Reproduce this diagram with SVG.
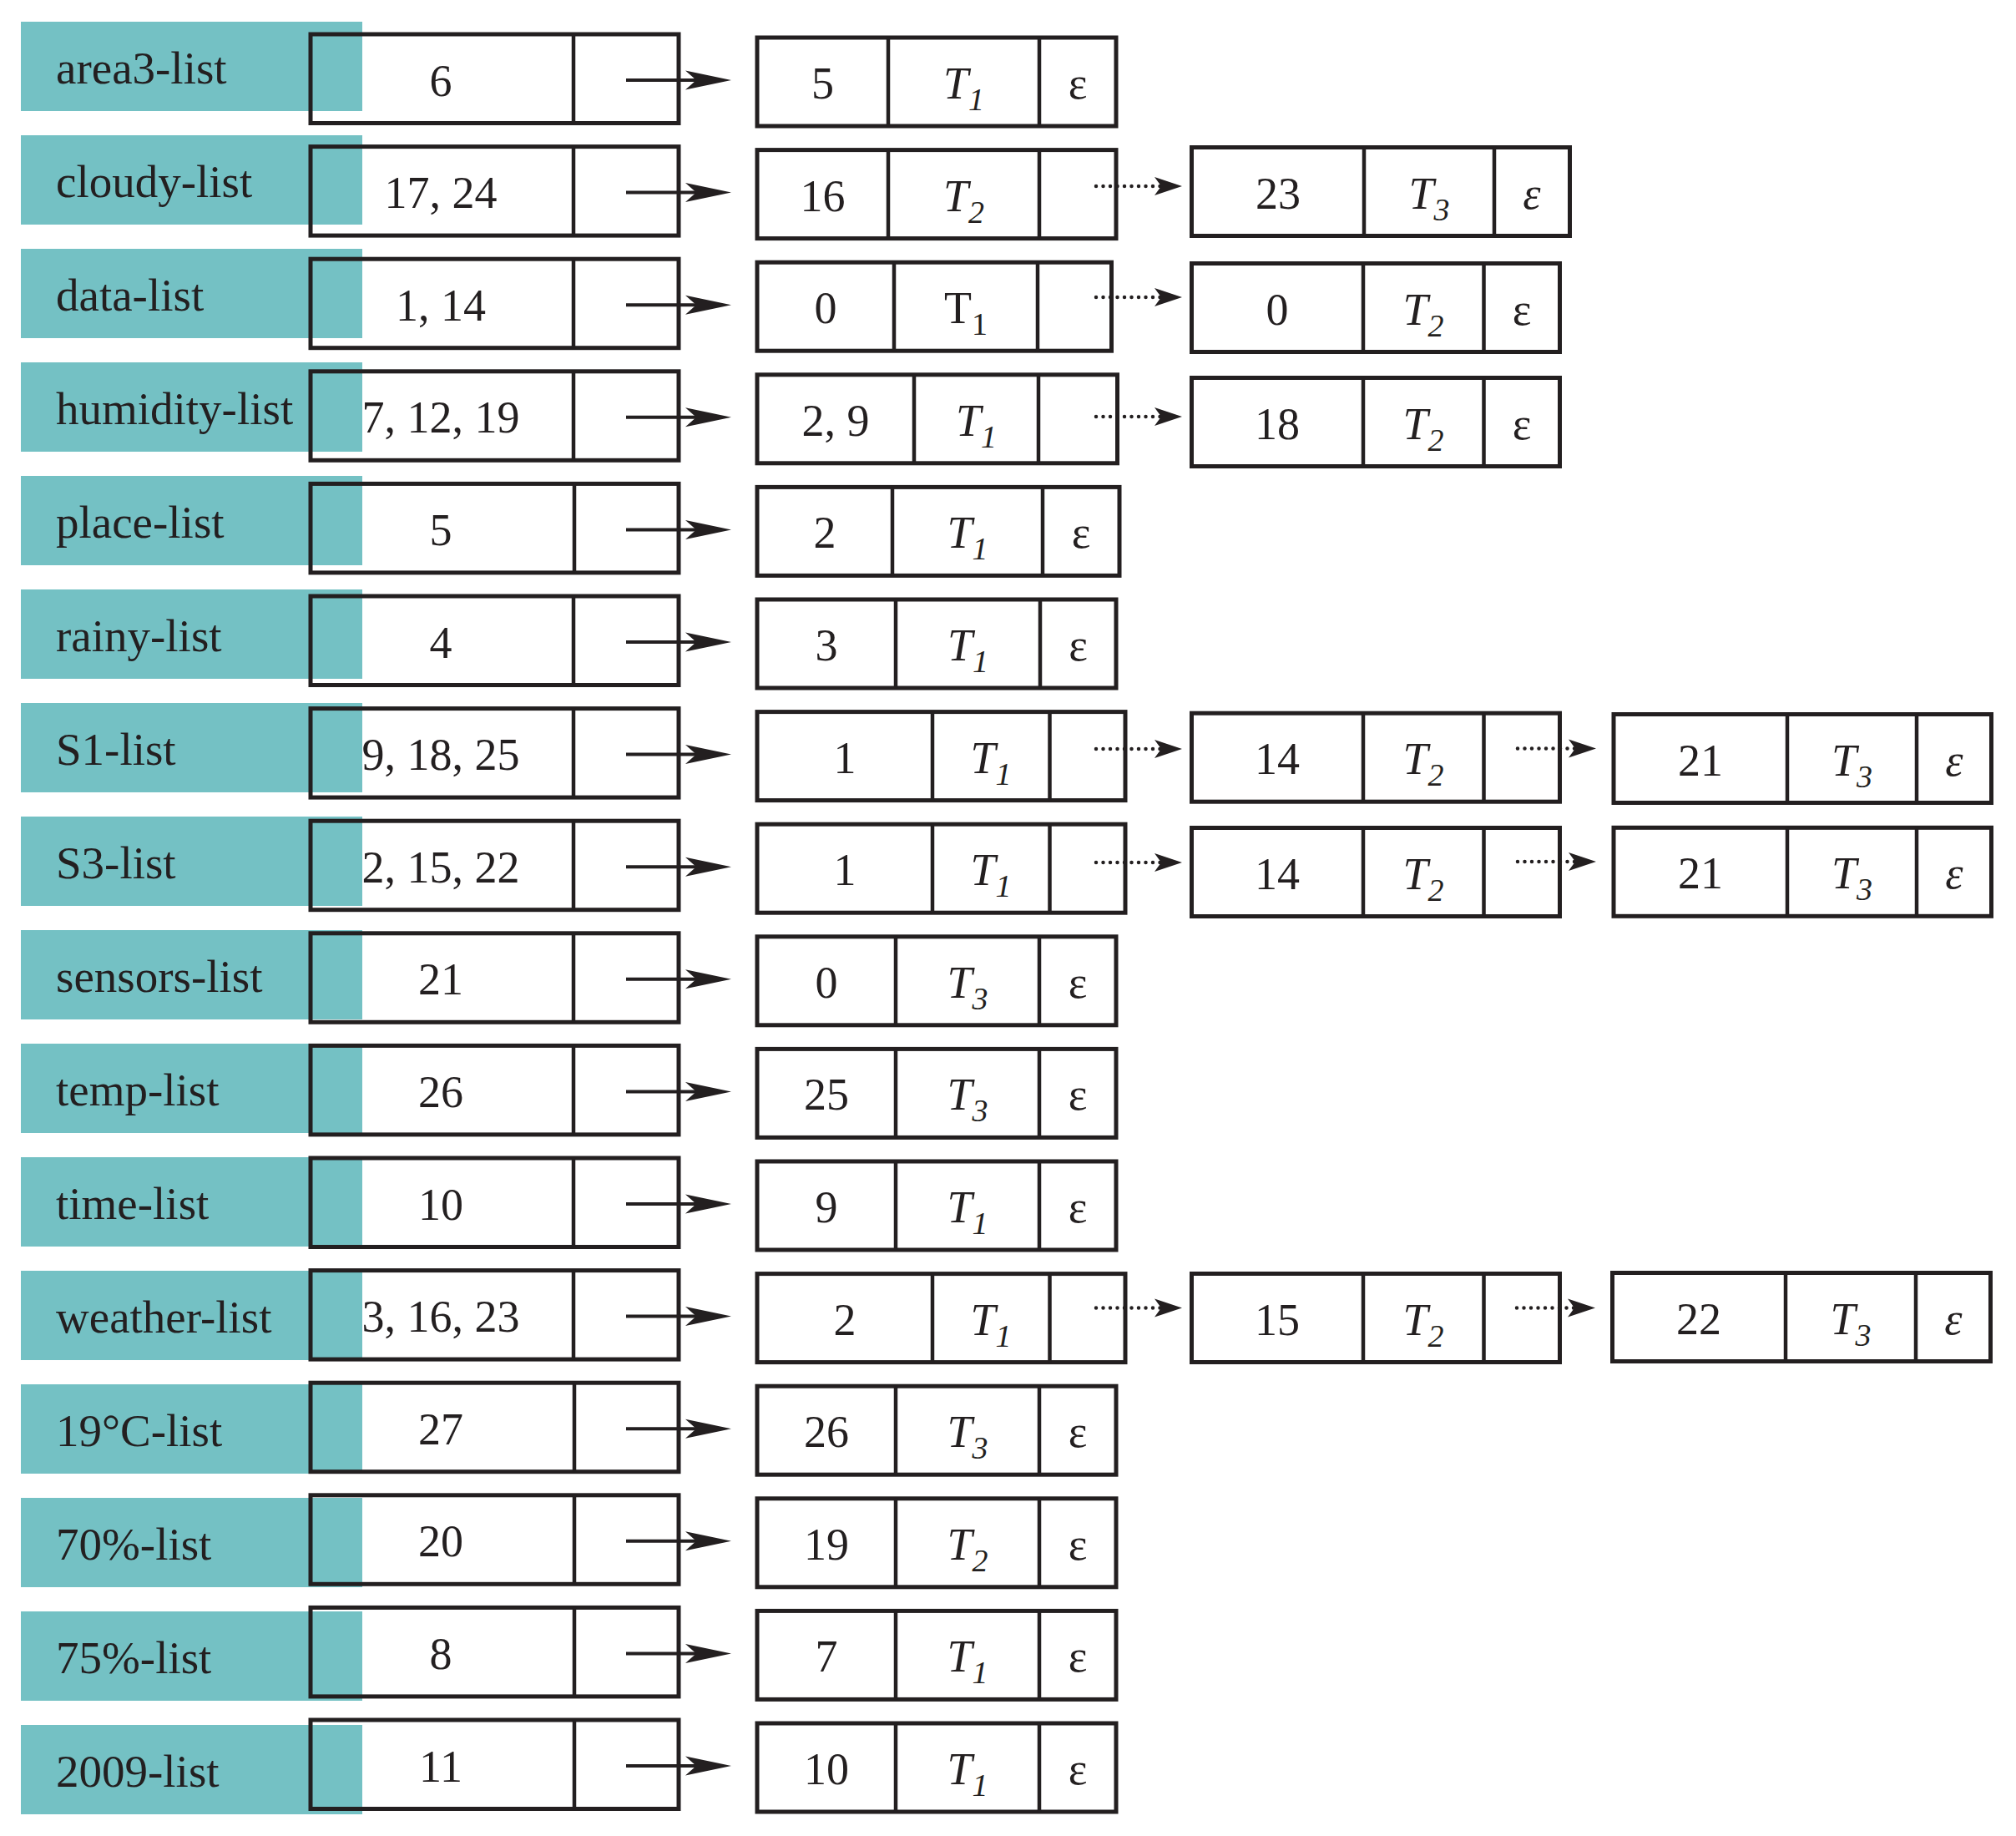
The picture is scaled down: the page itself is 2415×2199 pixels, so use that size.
<svg xmlns="http://www.w3.org/2000/svg" width="2415" height="2199" viewBox="0 0 2415 2199">
<style>
.lab{fill:#74C1C4}
.box{fill:none;stroke:#231F20;stroke-width:5}
.nb{fill:#FFFFFF;stroke:#231F20;stroke-width:5}
.dv{stroke:#231F20;stroke-width:4.5}
text{font-family:"Liberation Serif","Times New Roman",serif;fill:#231F20}
.lbl{font-size:55px}
.tx{font-size:54px;text-anchor:middle}
.it{font-style:italic}
.sub{font-size:38px}
.conn{fill:none;stroke:#231F20;stroke-width:4}
.dot{fill:none;stroke:#231F20;stroke-width:4.5;stroke-dasharray:0 8.5;stroke-linecap:round}
</style>
<defs>
<marker id="ah" markerUnits="userSpaceOnUse" markerWidth="60" markerHeight="30" viewBox="0 -15 60 30" refX="13" refY="0" orient="auto"><path d="M0,-11.5 L55,0 L0,11.5 L13,0 Z" fill="#231F20"/></marker>
<marker id="ahd" markerUnits="userSpaceOnUse" markerWidth="40" markerHeight="30" viewBox="0 -15 40 30" refX="8" refY="0" orient="auto"><path d="M0,-11 L33,0 L0,11 L8,0 Z" fill="#231F20"/></marker>
</defs>

<!-- header column -->
<g id="area3-list"><rect class="lab" x="25" y="26" width="409" height="107"/><text class="lbl" x="67" y="99.5">area3-list</text><rect class="box" x="372" y="41" width="441" height="106.5"/><line class="dv" x1="687" y1="41" x2="687" y2="147.5"/><text class="tx" x="528" y="114.5">6</text></g>
<g id="cloudy-list"><rect class="lab" x="25" y="162" width="409" height="107"/><text class="lbl" x="67" y="235.5">cloudy-list</text><rect class="box" x="372" y="175.6" width="441" height="106.5"/><line class="dv" x1="687" y1="175.6" x2="687" y2="282.1"/><text class="tx" x="528" y="249.1">17, 24</text></g>
<g id="data-list"><rect class="lab" x="25" y="298" width="409" height="107"/><text class="lbl" x="67" y="371.5">data-list</text><rect class="box" x="372" y="310.2" width="441" height="106.5"/><line class="dv" x1="687" y1="310.2" x2="687" y2="416.7"/><text class="tx" x="528" y="383.7">1, 14</text></g>
<g id="humidity-list"><rect class="lab" x="25" y="434" width="409" height="107"/><text class="lbl" x="67" y="507.5">humidity-list</text><rect class="box" x="372" y="444.8" width="441" height="106.5"/><line class="dv" x1="687" y1="444.8" x2="687" y2="551.3"/><text class="tx" x="528" y="518.3">7, 12, 19</text></g>
<g id="place-list"><rect class="lab" x="25" y="570" width="409" height="107"/><text class="lbl" x="67" y="643.5">place-list</text><rect class="box" x="372" y="579.4" width="441" height="106.5"/><line class="dv" x1="688" y1="579.4" x2="688" y2="685.9"/><text class="tx" x="528" y="652.9">5</text></g>
<g id="rainy-list"><rect class="lab" x="25" y="706" width="409" height="107"/><text class="lbl" x="67" y="779.5">rainy-list</text><rect class="box" x="372" y="714" width="441" height="106.5"/><line class="dv" x1="687" y1="714" x2="687" y2="820.5"/><text class="tx" x="528" y="787.5">4</text></g>
<g id="S1-list"><rect class="lab" x="25" y="842" width="409" height="107"/><text class="lbl" x="67" y="915.5">S1-list</text><rect class="box" x="372" y="848.6" width="441" height="106.5"/><line class="dv" x1="687" y1="848.6" x2="687" y2="955.1"/><text class="tx" x="528" y="922.1">9, 18, 25</text></g>
<g id="S3-list"><rect class="lab" x="25" y="978" width="409" height="107"/><text class="lbl" x="67" y="1051.5">S3-list</text><rect class="box" x="372" y="983.2" width="441" height="106.5"/><line class="dv" x1="687" y1="983.2" x2="687" y2="1089.7"/><text class="tx" x="528" y="1056.7">2, 15, 22</text></g>
<g id="sensors-list"><rect class="lab" x="25" y="1114" width="409" height="107"/><text class="lbl" x="67" y="1187.5">sensors-list</text><rect class="box" x="372" y="1117.8" width="441" height="106.5"/><line class="dv" x1="687" y1="1117.8" x2="687" y2="1224.3"/><text class="tx" x="528" y="1191.3">21</text></g>
<g id="temp-list"><rect class="lab" x="25" y="1250" width="409" height="107"/><text class="lbl" x="67" y="1323.5">temp-list</text><rect class="box" x="372" y="1252.4" width="441" height="106.5"/><line class="dv" x1="687" y1="1252.4" x2="687" y2="1358.9"/><text class="tx" x="528" y="1325.9">26</text></g>
<g id="time-list"><rect class="lab" x="25" y="1386" width="409" height="107"/><text class="lbl" x="67" y="1459.5">time-list</text><rect class="box" x="372" y="1387" width="441" height="106.5"/><line class="dv" x1="687" y1="1387" x2="687" y2="1493.5"/><text class="tx" x="528" y="1460.5">10</text></g>
<g id="weather-list"><rect class="lab" x="25" y="1522" width="409" height="107"/><text class="lbl" x="67" y="1595.5">weather-list</text><rect class="box" x="372" y="1521.6" width="441" height="106.5"/><line class="dv" x1="687" y1="1521.6" x2="687" y2="1628.1"/><text class="tx" x="528" y="1595.1">3, 16, 23</text></g>
<g id="19C-list"><rect class="lab" x="25" y="1658" width="409" height="107"/><text class="lbl" x="67" y="1731.5">19°C-list</text><rect class="box" x="372" y="1656.2" width="441" height="106.5"/><line class="dv" x1="688" y1="1656.2" x2="688" y2="1762.7"/><text class="tx" x="528" y="1729.7">27</text></g>
<g id="70pct-list"><rect class="lab" x="25" y="1794" width="409" height="107"/><text class="lbl" x="67" y="1867.5">70%-list</text><rect class="box" x="372" y="1790.8" width="441" height="106.5"/><line class="dv" x1="688" y1="1790.8" x2="688" y2="1897.3"/><text class="tx" x="528" y="1864.3">20</text></g>
<g id="75pct-list"><rect class="lab" x="25" y="1930" width="409" height="107"/><text class="lbl" x="67" y="2003.5">75%-list</text><rect class="box" x="372" y="1925.4" width="441" height="106.5"/><line class="dv" x1="688" y1="1925.4" x2="688" y2="2031.9"/><text class="tx" x="528" y="1998.9">8</text></g>
<g id="2009-list"><rect class="lab" x="25" y="2066" width="409" height="107"/><text class="lbl" x="67" y="2139.5">2009-list</text><rect class="box" x="372" y="2060" width="441" height="106.5"/><line class="dv" x1="688" y1="2060" x2="688" y2="2166.5"/><text class="tx" x="528" y="2133.5">11</text></g>

<!-- record nodes -->
<g id="area3-n1"><rect class="nb" x="907" y="45" width="430" height="106"/><line class="dv" x1="1064" y1="45" x2="1064" y2="151"/><line class="dv" x1="1245" y1="45" x2="1245" y2="151"/><text class="tx" x="985.5" y="118">5</text><text class="tx" x="1154.5" y="118"><tspan class="it">T</tspan><tspan class="it sub" dy="14">1</tspan></text><text class="tx" x="1291" y="118">ε</text></g>

<g id="cloudy-n1"><rect class="nb" x="907" y="179.6" width="430" height="106"/><line class="dv" x1="1064" y1="179.6" x2="1064" y2="285.6"/><line class="dv" x1="1245" y1="179.6" x2="1245" y2="285.6"/><text class="tx" x="985.5" y="252.6">16</text><text class="tx" x="1154.5" y="252.6"><tspan class="it">T</tspan><tspan class="it sub" dy="14">2</tspan></text></g>
<g id="cloudy-n2"><rect class="nb" x="1427.5" y="176.5" width="453" height="106"/><line class="dv" x1="1634" y1="176.5" x2="1634" y2="282.5"/><line class="dv" x1="1790" y1="176.5" x2="1790" y2="282.5"/><text class="tx" x="1531" y="249.5">23</text><text class="tx" x="1712" y="249.5"><tspan class="it">T</tspan><tspan class="it sub" dy="14">3</tspan></text><text class="tx it" x="1835" y="249.5">ε</text></g>

<g id="data-n1"><rect class="nb" x="907" y="314.2" width="424.5" height="106"/><line class="dv" x1="1071" y1="314.2" x2="1071" y2="420.2"/><line class="dv" x1="1243" y1="314.2" x2="1243" y2="420.2"/><text class="tx" x="989" y="387.2">0</text><text class="tx" x="1157" y="387.2">T<tspan class="sub" dy="14">1</tspan></text></g>
<g id="data-n2"><rect class="nb" x="1427.5" y="315.5" width="441" height="106"/><line class="dv" x1="1633" y1="315.5" x2="1633" y2="421.5"/><line class="dv" x1="1777.5" y1="315.5" x2="1777.5" y2="421.5"/><text class="tx" x="1530" y="388.5">0</text><text class="tx" x="1705" y="388.5"><tspan class="it">T</tspan><tspan class="it sub" dy="14">2</tspan></text><text class="tx" x="1823" y="388.5">ε</text></g>

<g id="humidity-n1"><rect class="nb" x="907" y="448.8" width="431.5" height="106"/><line class="dv" x1="1095" y1="448.8" x2="1095" y2="554.8"/><line class="dv" x1="1244" y1="448.8" x2="1244" y2="554.8"/><text class="tx" x="1001" y="521.8">2, 9</text><text class="tx" x="1169.5" y="521.8"><tspan class="it">T</tspan><tspan class="it sub" dy="14">1</tspan></text></g>
<g id="humidity-n2"><rect class="nb" x="1427.5" y="452.5" width="441" height="106"/><line class="dv" x1="1633" y1="452.5" x2="1633" y2="558.5"/><line class="dv" x1="1777.5" y1="452.5" x2="1777.5" y2="558.5"/><text class="tx" x="1530" y="525.5">18</text><text class="tx" x="1705" y="525.5"><tspan class="it">T</tspan><tspan class="it sub" dy="14">2</tspan></text><text class="tx" x="1823" y="525.5">ε</text></g>

<g id="place-n1"><rect class="nb" x="907" y="583.4" width="434" height="106"/><line class="dv" x1="1069" y1="583.4" x2="1069" y2="689.4"/><line class="dv" x1="1249" y1="583.4" x2="1249" y2="689.4"/><text class="tx" x="988" y="656.4">2</text><text class="tx" x="1159" y="656.4"><tspan class="it">T</tspan><tspan class="it sub" dy="14">1</tspan></text><text class="tx" x="1295" y="656.4">ε</text></g>

<g id="rainy-n1"><rect class="nb" x="907" y="718" width="430" height="106"/><line class="dv" x1="1073" y1="718" x2="1073" y2="824"/><line class="dv" x1="1246" y1="718" x2="1246" y2="824"/><text class="tx" x="990" y="791">3</text><text class="tx" x="1159.5" y="791"><tspan class="it">T</tspan><tspan class="it sub" dy="14">1</tspan></text><text class="tx" x="1291.5" y="791">ε</text></g>

<g id="S1-n1"><rect class="nb" x="907" y="852.6" width="441" height="106"/><line class="dv" x1="1117" y1="852.6" x2="1117" y2="958.6"/><line class="dv" x1="1257.5" y1="852.6" x2="1257.5" y2="958.6"/><text class="tx" x="1012" y="925.6">1</text><text class="tx" x="1187" y="925.6"><tspan class="it">T</tspan><tspan class="it sub" dy="14">1</tspan></text></g>
<g id="S1-n2"><rect class="nb" x="1427.5" y="854.2" width="441" height="106"/><line class="dv" x1="1633" y1="854.2" x2="1633" y2="960.2"/><line class="dv" x1="1777.5" y1="854.2" x2="1777.5" y2="960.2"/><text class="tx" x="1530" y="927.2">14</text><text class="tx" x="1705" y="927.2"><tspan class="it">T</tspan><tspan class="it sub" dy="14">2</tspan></text></g>
<g id="S1-n3"><rect class="nb" x="1933" y="855.5" width="452.5" height="106"/><line class="dv" x1="2141" y1="855.5" x2="2141" y2="961.5"/><line class="dv" x1="2296" y1="855.5" x2="2296" y2="961.5"/><text class="tx" x="2037" y="928.5">21</text><text class="tx" x="2218.5" y="928.5"><tspan class="it">T</tspan><tspan class="it sub" dy="14">3</tspan></text><text class="tx it" x="2341" y="928.5">ε</text></g>

<g id="S3-n1"><rect class="nb" x="907" y="987.2" width="441" height="106"/><line class="dv" x1="1117" y1="987.2" x2="1117" y2="1093.2"/><line class="dv" x1="1257.5" y1="987.2" x2="1257.5" y2="1093.2"/><text class="tx" x="1012" y="1060.2">1</text><text class="tx" x="1187" y="1060.2"><tspan class="it">T</tspan><tspan class="it sub" dy="14">1</tspan></text></g>
<g id="S3-n2"><rect class="nb" x="1427.5" y="991.5" width="441" height="106"/><line class="dv" x1="1633" y1="991.5" x2="1633" y2="1097.5"/><line class="dv" x1="1777.5" y1="991.5" x2="1777.5" y2="1097.5"/><text class="tx" x="1530" y="1064.5">14</text><text class="tx" x="1705" y="1064.5"><tspan class="it">T</tspan><tspan class="it sub" dy="14">2</tspan></text></g>
<g id="S3-n3"><rect class="nb" x="1933" y="991.3" width="452.5" height="106"/><line class="dv" x1="2141" y1="991.3" x2="2141" y2="1097.3"/><line class="dv" x1="2296" y1="991.3" x2="2296" y2="1097.3"/><text class="tx" x="2037" y="1064.3">21</text><text class="tx" x="2218.5" y="1064.3"><tspan class="it">T</tspan><tspan class="it sub" dy="14">3</tspan></text><text class="tx it" x="2341" y="1064.3">ε</text></g>

<g id="sensors-n1"><rect class="nb" x="907" y="1121.8" width="430" height="106"/><line class="dv" x1="1073" y1="1121.8" x2="1073" y2="1227.8"/><line class="dv" x1="1245" y1="1121.8" x2="1245" y2="1227.8"/><text class="tx" x="990" y="1194.8">0</text><text class="tx" x="1159" y="1194.8"><tspan class="it">T</tspan><tspan class="it sub" dy="14">3</tspan></text><text class="tx" x="1291" y="1194.8">ε</text></g>

<g id="temp-n1"><rect class="nb" x="907" y="1256.4" width="430" height="106"/><line class="dv" x1="1073" y1="1256.4" x2="1073" y2="1362.4"/><line class="dv" x1="1245" y1="1256.4" x2="1245" y2="1362.4"/><text class="tx" x="990" y="1329.4">25</text><text class="tx" x="1159" y="1329.4"><tspan class="it">T</tspan><tspan class="it sub" dy="14">3</tspan></text><text class="tx" x="1291" y="1329.4">ε</text></g>

<g id="time-n1"><rect class="nb" x="907" y="1391" width="430" height="106"/><line class="dv" x1="1073" y1="1391" x2="1073" y2="1497"/><line class="dv" x1="1245" y1="1391" x2="1245" y2="1497"/><text class="tx" x="990" y="1464">9</text><text class="tx" x="1159" y="1464"><tspan class="it">T</tspan><tspan class="it sub" dy="14">1</tspan></text><text class="tx" x="1291" y="1464">ε</text></g>

<g id="weather-n1"><rect class="nb" x="907" y="1525.6" width="441" height="106"/><line class="dv" x1="1117" y1="1525.6" x2="1117" y2="1631.6"/><line class="dv" x1="1257.5" y1="1525.6" x2="1257.5" y2="1631.6"/><text class="tx" x="1012" y="1598.6">2</text><text class="tx" x="1187" y="1598.6"><tspan class="it">T</tspan><tspan class="it sub" dy="14">1</tspan></text></g>
<g id="weather-n2"><rect class="nb" x="1427.5" y="1525.5" width="441" height="106"/><line class="dv" x1="1633" y1="1525.5" x2="1633" y2="1631.5"/><line class="dv" x1="1777.5" y1="1525.5" x2="1777.5" y2="1631.5"/><text class="tx" x="1530" y="1598.5">15</text><text class="tx" x="1705" y="1598.5"><tspan class="it">T</tspan><tspan class="it sub" dy="14">2</tspan></text></g>
<g id="weather-n3"><rect class="nb" x="1931.5" y="1524.5" width="453" height="106"/><line class="dv" x1="2139" y1="1524.5" x2="2139" y2="1630.5"/><line class="dv" x1="2295" y1="1524.5" x2="2295" y2="1630.5"/><text class="tx" x="2035" y="1597.5">22</text><text class="tx" x="2217" y="1597.5"><tspan class="it">T</tspan><tspan class="it sub" dy="14">3</tspan></text><text class="tx it" x="2340" y="1597.5">ε</text></g>

<g id="19C-n1"><rect class="nb" x="907" y="1660.2" width="430" height="106"/><line class="dv" x1="1073" y1="1660.2" x2="1073" y2="1766.2"/><line class="dv" x1="1245" y1="1660.2" x2="1245" y2="1766.2"/><text class="tx" x="990" y="1733.2">26</text><text class="tx" x="1159" y="1733.2"><tspan class="it">T</tspan><tspan class="it sub" dy="14">3</tspan></text><text class="tx" x="1291" y="1733.2">ε</text></g>

<g id="70pct-n1"><rect class="nb" x="907" y="1794.8" width="430" height="106"/><line class="dv" x1="1073" y1="1794.8" x2="1073" y2="1900.8"/><line class="dv" x1="1245" y1="1794.8" x2="1245" y2="1900.8"/><text class="tx" x="990" y="1867.8">19</text><text class="tx" x="1159" y="1867.8"><tspan class="it">T</tspan><tspan class="it sub" dy="14">2</tspan></text><text class="tx" x="1291" y="1867.8">ε</text></g>

<g id="75pct-n1"><rect class="nb" x="907" y="1929.4" width="430" height="106"/><line class="dv" x1="1073" y1="1929.4" x2="1073" y2="2035.4"/><line class="dv" x1="1245" y1="1929.4" x2="1245" y2="2035.4"/><text class="tx" x="990" y="2002.4">7</text><text class="tx" x="1159" y="2002.4"><tspan class="it">T</tspan><tspan class="it sub" dy="14">1</tspan></text><text class="tx" x="1291" y="2002.4">ε</text></g>

<g id="2009-n1"><rect class="nb" x="907" y="2064" width="430" height="106"/><line class="dv" x1="1073" y1="2064" x2="1073" y2="2170"/><line class="dv" x1="1245" y1="2064" x2="1245" y2="2170"/><text class="tx" x="990" y="2137">10</text><text class="tx" x="1159" y="2137"><tspan class="it">T</tspan><tspan class="it sub" dy="14">1</tspan></text><text class="tx" x="1291" y="2137">ε</text></g>

<!-- connectors -->
<g id="connectors">
<path class="conn" marker-end="url(#ah)" d="M750,96 H834"/>
<path class="conn" marker-end="url(#ah)" d="M750,230.6 H834"/>
<path class="conn" marker-end="url(#ah)" d="M750,365.2 H834"/>
<path class="conn" marker-end="url(#ah)" d="M750,499.8 H834"/>
<path class="conn" marker-end="url(#ah)" d="M750,634.4 H834"/>
<path class="conn" marker-end="url(#ah)" d="M750,769 H834"/>
<path class="conn" marker-end="url(#ah)" d="M750,903.6 H834"/>
<path class="conn" marker-end="url(#ah)" d="M750,1038.2 H834"/>
<path class="conn" marker-end="url(#ah)" d="M750,1172.8 H834"/>
<path class="conn" marker-end="url(#ah)" d="M750,1307.4 H834"/>
<path class="conn" marker-end="url(#ah)" d="M750,1442 H834"/>
<path class="conn" marker-end="url(#ah)" d="M750,1576.6 H834"/>
<path class="conn" marker-end="url(#ah)" d="M750,1711.2 H834"/>
<path class="conn" marker-end="url(#ah)" d="M750,1845.8 H834"/>
<path class="conn" marker-end="url(#ah)" d="M750,1980.4 H834"/>
<path class="conn" marker-end="url(#ah)" d="M750,2115 H834"/>
<path class="dot" marker-end="url(#ahd)" d="M1313,223 H1391"/>
<path class="dot" marker-end="url(#ahd)" d="M1313,356 H1391"/>
<path class="dot" marker-end="url(#ahd)" d="M1313,499 H1391"/>
<path class="dot" marker-end="url(#ahd)" d="M1313,897 H1391"/>
<path class="dot" marker-end="url(#ahd)" d="M1313,1033 H1391"/>
<path class="dot" marker-end="url(#ahd)" d="M1313,1566.5 H1391"/>
<path class="dot" marker-end="url(#ahd)" d="M1818,896.5 H1887"/>
<path class="dot" marker-end="url(#ahd)" d="M1818,1032 H1887"/>
<path class="dot" marker-end="url(#ahd)" d="M1817,1566.5 H1886"/>
</g>
</svg>
